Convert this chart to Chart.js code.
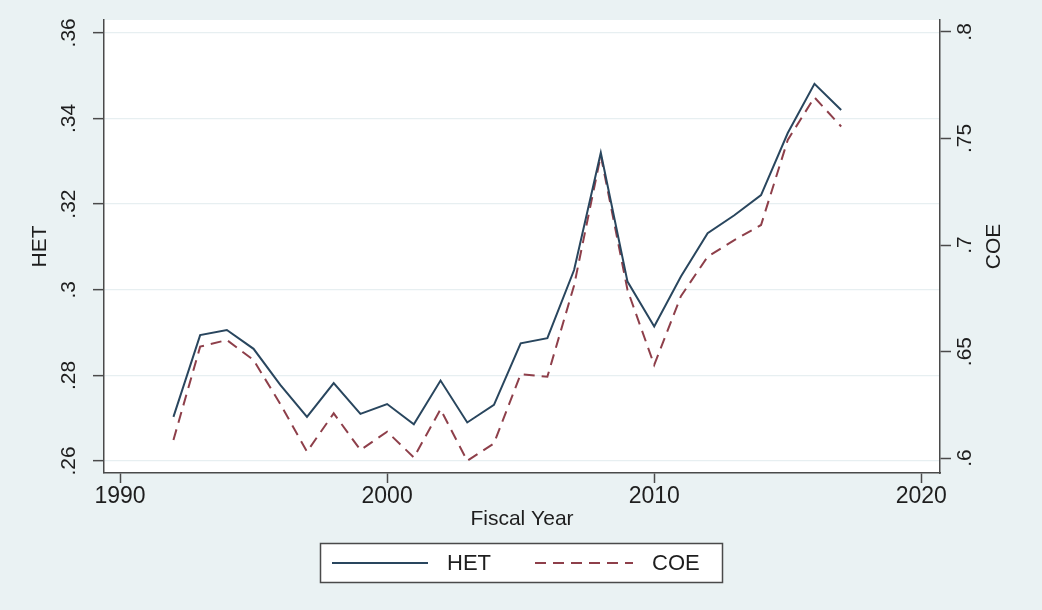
<!DOCTYPE html>
<html>
<head>
<meta charset="utf-8">
<title>HET and COE by Fiscal Year</title>
<script src="https://cdn.jsdelivr.net/npm/chart.js@4/dist/chart.umd.min.js"></script>
<style>
  html, body { margin: 0; padding: 0; background: #EAF2F3; }
  #wrap { width: 1042px; height: 610px; position: relative; }
  canvas { display: block; }
</style>
</head>
<body>
<div id="wrap"><canvas id="chart" width="1042" height="610"></canvas></div>
<script>
// Series data
const FISCAL_YEARS = [1992, 1993, 1994, 1995, 1996, 1997, 1998, 1999, 2000, 2001, 2002, 2003, 2004,
                      2005, 2006, 2007, 2008, 2009, 2010, 2011, 2012, 2013, 2014, 2015, 2016, 2017];
const HET_VALUES = [0.2703, 0.2894, 0.2906, 0.2862, 0.2778, 0.2703, 0.2782, 0.2710, 0.2733, 0.2686, 0.2788, 0.2690, 0.2731,
                    0.2875, 0.2887, 0.3046, 0.3320, 0.3019, 0.2914, 0.3031, 0.3132, 0.3174, 0.3221, 0.3366, 0.3481, 0.3420];
const COE_VALUES = [0.6085, 0.6523, 0.6554, 0.6460, 0.6254, 0.6030, 0.6210, 0.6038, 0.6124, 0.6003, 0.6229, 0.5987, 0.6069,
                    0.6394, 0.6382, 0.6810, 0.7420, 0.6789, 0.6437, 0.6760, 0.6945, 0.7023, 0.7094, 0.7493, 0.7693, 0.7556];

// Axis ticks
const YEAR_TICKS = [1990, 2000, 2010, 2020];
const HET_TICKS = [0.26, 0.28, 0.30, 0.32, 0.34, 0.36];
const COE_TICKS = [0.60, 0.65, 0.70, 0.75, 0.80];

const LABELS = { x: 'Fiscal Year', het: 'HET', coe: 'COE' };

const FONT = '"Liberation Sans", Arial, Helvetica, sans-serif';
const INK = '#1e1e1e';
const AXIS = '#4a4a4a';
const HET_COLOR = '#29465e';
const COE_COLOR = '#8e3f4a';
const COE_DASH = [11, 7];

// ".36" style labels without the leading zero
const decimalLabel = v => String(+Number(v).toFixed(4)).replace(/^0\./, '.');

const toPoints = (xs, ys) => xs.map((x, i) => ({ x: x, y: ys[i] }));

const plotBackground = {
  id: 'plotBackground',
  beforeDraw(chart) {
    const { ctx, chartArea: a } = chart;
    ctx.save();
    ctx.fillStyle = '#ffffff';
    ctx.fillRect(a.left, a.top, a.right - a.left, a.bottom - a.top);
    ctx.restore();
  }
};

// Right-hand axis title (reads bottom-to-top like the left one) and the boxed legend
const extras = {
  id: 'extras',
  afterDraw(chart) {
    const { ctx, chartArea: a } = chart;
    ctx.save();
    ctx.fillStyle = INK;
    ctx.font = '21px ' + FONT;
    ctx.textAlign = 'center';
    ctx.textBaseline = 'middle';
    ctx.translate(994, (a.top + a.bottom) / 2);
    ctx.rotate(-Math.PI / 2);
    ctx.fillText(LABELS.coe, 0, 0);
    ctx.restore();

    // legend
    const box = { x: 320.5, y: 543.5, w: 402, h: 39 };
    const midY = box.y + box.h / 2;
    ctx.save();
    ctx.fillStyle = '#ffffff';
    ctx.fillRect(box.x, box.y, box.w, box.h);
    ctx.strokeStyle = AXIS;
    ctx.lineWidth = 1.5;
    ctx.strokeRect(box.x, box.y, box.w, box.h);

    const ds = chart.data.datasets;
    const entries = [
      { ds: ds[0], x0: 332, x1: 428, tx: 447 },
      { ds: ds[1], x0: 535, x1: 633, tx: 652 }
    ];
    entries.forEach(e => {
      ctx.beginPath();
      ctx.strokeStyle = e.ds.borderColor;
      ctx.lineWidth = 1.8;
      ctx.setLineDash(e.ds.borderDash || []);
      ctx.moveTo(e.x0, midY);
      ctx.lineTo(e.x1, midY);
      ctx.stroke();
      ctx.setLineDash([]);
      ctx.fillStyle = INK;
      ctx.font = '22px ' + FONT;
      ctx.textAlign = 'left';
      ctx.textBaseline = 'middle';
      ctx.fillText(e.ds.label, e.tx, midY + 1);
    });
    ctx.restore();
  }
};

new Chart(document.getElementById('chart'), {
  type: 'line',
  data: {
    datasets: [
      {
        label: LABELS.het,
        data: toPoints(FISCAL_YEARS, HET_VALUES),
        yAxisID: 'yHET',
        borderColor: HET_COLOR,
        borderWidth: 2,
        pointRadius: 0,
        tension: 0,
        fill: false
      },
      {
        label: LABELS.coe,
        data: toPoints(FISCAL_YEARS, COE_VALUES),
        yAxisID: 'yCOE',
        borderColor: COE_COLOR,
        borderWidth: 2,
        borderDash: COE_DASH,
        pointRadius: 0,
        tension: 0,
        fill: false
      }
    ]
  },
  options: {
    responsive: false,
    animation: false,
    devicePixelRatio: 1,
    layout: { padding: { top: 20, left: 0, right: 0, bottom: 77 } },
    plugins: {
      legend: { display: false },
      tooltip: { enabled: false }
    },
    scales: {
      x: {
        type: 'linear',
        position: 'bottom',
        min: 1989.4,
        max: 2020.7,
        afterBuildTicks: s => { s.ticks = YEAR_TICKS.map(v => ({ value: v })); },
        afterFit: s => { s.height = 60; s.paddingLeft = 0; s.paddingRight = 0; },
        grid: { drawOnChartArea: false, drawTicks: true, tickLength: 10, tickColor: AXIS, tickWidth: 1.5 },
        border: { display: true, color: AXIS, width: 1.5 },
        ticks: {
          color: INK,
          font: { family: FONT, size: 23 },
          padding: 0,
          maxRotation: 0,
          callback: v => String(v)
        },
        title: {
          display: true,
          text: LABELS.x,
          color: INK,
          font: { family: FONT, size: 21 },
          padding: { top: 0, bottom: 1 }
        }
      },
      yHET: {
        type: 'linear',
        position: 'left',
        min: 0.2572,
        max: 0.3630,
        afterBuildTicks: s => { s.ticks = HET_TICKS.map(v => ({ value: v })); },
        afterFit: s => { s.width = 104; s.paddingTop = 0; s.paddingBottom = 0; },
        grid: { drawOnChartArea: true, color: '#e7eff1', lineWidth: 1.3, tickLength: 11, tickColor: AXIS, tickWidth: 1.5 },
        border: { display: true, color: AXIS, width: 1.5 },
        ticks: {
          color: INK,
          font: { family: FONT, size: 21 },
          minRotation: 90,
          maxRotation: 90,
          crossAlign: 'center',
          padding: 9,
          callback: decimalLabel
        },
        title: {
          display: true,
          text: LABELS.het,
          color: INK,
          font: { family: FONT, size: 21 },
          padding: { top: 28, bottom: 0 }
        }
      },
      yCOE: {
        type: 'linear',
        position: 'right',
        min: 0.5930,
        max: 0.8056,
        afterBuildTicks: s => { s.ticks = COE_TICKS.map(v => ({ value: v })); },
        afterFit: s => { s.width = 102; s.paddingTop = 0; s.paddingBottom = 0; },
        grid: { drawOnChartArea: false, tickLength: 11, tickColor: AXIS, tickWidth: 1.5 },
        border: { display: true, color: AXIS, width: 1.5 },
        ticks: {
          color: INK,
          font: { family: FONT, size: 21 },
          minRotation: 90,
          maxRotation: 90,
          crossAlign: 'center',
          padding: 0,
          callback: decimalLabel
        }
      }
    }
  },
  plugins: [plotBackground, extras]
});
</script>
</body>
</html>
